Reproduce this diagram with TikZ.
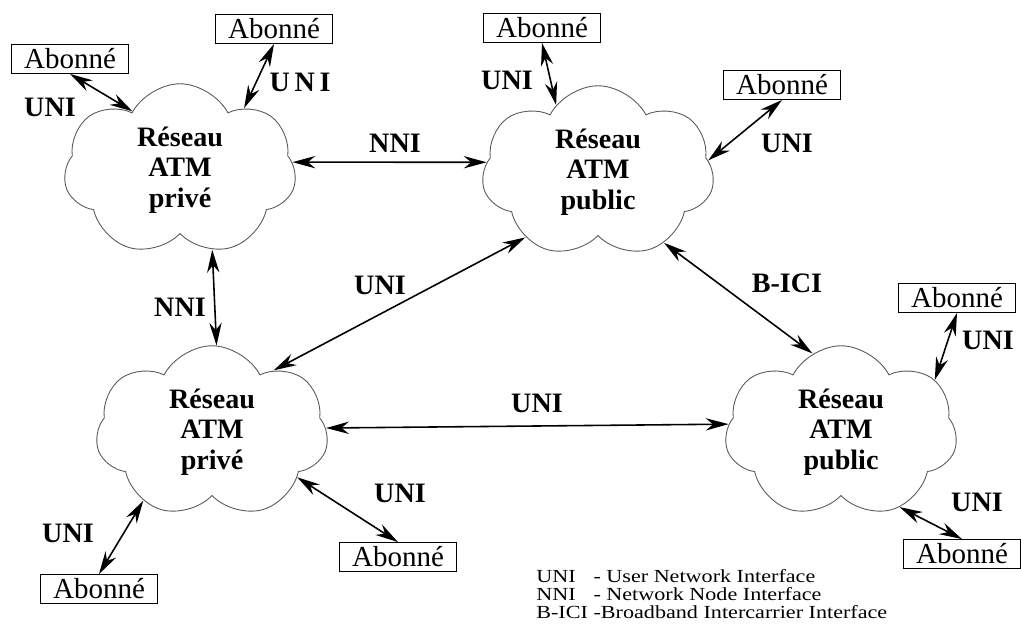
\documentclass[tikz,border=0pt]{standalone}
\usepackage{fontspec}
\setmainfont{Liberation Serif}
\newfontfamily\legendfont[FakeStretch=1.2]{Liberation Serif}
\usetikzlibrary{shapes.symbols,arrows.meta}

\tikzset{
  reseau/.style={cloud, cloud puffs=7, cloud puff arc=125, cloud ignores aspect,
    draw=black!65, line width=0.5pt, minimum width=4.65cm, minimum height=3.45cm,
    align=center, font=\fontsize{16}{17.5}\selectfont\bfseries},
  abonne/.style={draw, line width=0.5pt, minimum width=2.35cm, minimum height=0.58cm,
    inner sep=0pt, font=\fontsize{16.5}{18}\selectfont},
  lien/.style={{Stealth[length=13pt,width=7pt]}-{Stealth[length=13pt,width=7pt]}, line width=0.9pt},
  etiq/.style={font=\fontsize{16}{18}\selectfont\bfseries, inner sep=0pt},
}

\begin{document}
\begin{tikzpicture}[x=0.02cm, y=-0.02cm]
    \useasboundingbox (0,0) rectangle (1021,630);

    % ATM networks
    \node[reseau] (prive1) at (180,170) {Réseau\\ATM\\privé};
    \node[reseau] (public1) at (598,172) {Réseau\\ATM\\public};
    \node[reseau] (prive2) at (212,432) {Réseau\\ATM\\privé};
    \node[reseau] (public2) at (841,432) {Réseau\\ATM\\public};

    % Subscribers
    \node[abonne] (ab1) at (70,59) {Abonné};
    \node[abonne] (ab2) at (274,29) {Abonné};
    \node[abonne] (ab3) at (542,28) {Abonné};
    \node[abonne] (ab4) at (782,85) {Abonné};
    \node[abonne] (ab5) at (957,298) {Abonné};
    \node[abonne] (ab6) at (962,554) {Abonné};
    \node[abonne] (ab7) at (398,557) {Abonné};
    \node[abonne] (ab8) at (99,589) {Abonné};

    % Interfaces
    \draw[lien] (ab1.south) -- (prive1.129);
    \draw[lien] (ab2.south) -- (prive1.44);
    \draw[lien] (prive1.4) -- (public1.175);
    \draw[lien] (ab3.south) -- (public1.122);
    \draw[lien] (ab4.south) -- (public1.6);
    \draw[lien] (prive1.-68) -- (prive2.87);
    \draw[lien] (prive2.45) -- (public1.-138);
    \draw[lien] (public1.-47) -- (public2.110);
    \draw[lien] (prive2.2) -- (public2.176);
    \draw[lien] (ab5.south) -- (public2.29);
    \draw[lien] (public2.-52) -- (ab6.north);
    \draw[lien] (prive2.-28) -- (ab7.north);
    \draw[lien] (prive2.-135) -- (ab8.north);

    % Interface labels
    \node[etiq] (uni1) at (50,107) {UNI};
    \node[etiq] (uni2) at (300,82) {U\,N\,I};
    \node[etiq] (nni1) at (395,143) {NNI};
    \node[etiq] (uni3) at (507,80) {UNI};
    \node[etiq] (uni4) at (787,143) {UNI};
    \node[etiq] (nni2) at (180,307) {NNI};
    \node[etiq] (uni5) at (380,285) {UNI};
    \node[etiq] (bici) at (787,283) {B-ICI};
    \node[etiq] (uni6) at (537,403) {UNI};
    \node[etiq] (uni7) at (988,340) {UNI};
    \node[etiq] (uni8) at (977,502) {UNI};
    \node[etiq] (uni9) at (400,493) {UNI};
    \node[etiq] (uni10) at (68,533) {UNI};

    % Legend
    \node[anchor=north west, inner sep=0pt] (legende) at (536,569)
      {\legendfont\fontsize{10.5}{9.4}\selectfont
       \begin{tabular}{@{}l@{ }l@{}}
         UNI & - User Network Interface\\
         NNI & - Network Node Interface\\
         B-ICI & -Broadband Intercarrier Interface
       \end{tabular}};
\end{tikzpicture}
\end{document}
